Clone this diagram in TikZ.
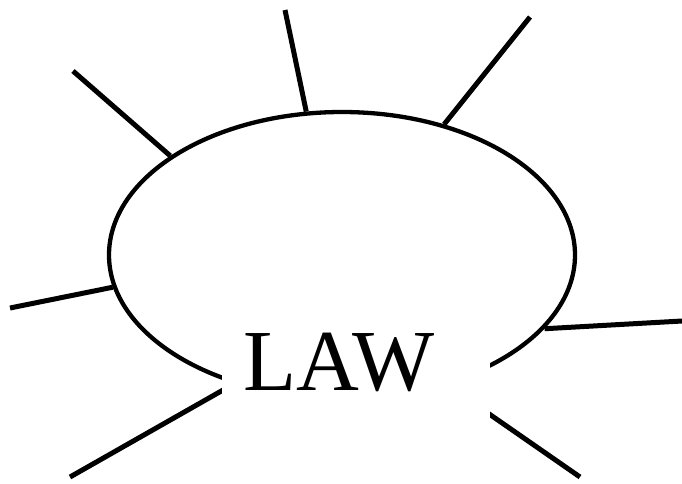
\documentclass[tikz,border=0pt]{standalone}
\usepackage{fontspec}
\setmainfont{Liberation Serif}
\usetikzlibrary{shapes.geometric}

\tikzset{
  bubble/.style={draw,ellipse,line width=4.3pt,inner sep=0pt,minimum width=466pt,minimum height=286pt},
  ray/.style={line width=5pt},
  tag/.style={fill=white,inner xsep=21pt,inner ysep=0pt,text width=226pt,align=left,
    text height=70pt,text depth=50pt,font=\fontsize{87}{90}\selectfont}
}

\begin{document}
\begin{tikzpicture}[x=1pt,y=-1pt]
  \useasboundingbox (0,0) rectangle (682,483);
  \node[bubble] (idea) at (342,255) {};
  % rays: border angle / free end
  \foreach \a/\x/\y [count=\i] in {188/10/308, 150.8/73/71, 104.1/285/10, 52.6/530/17,
      -20/682/321, -51.4/580/477, 230.6/70/477}
  {
    \coordinate (ray\i) at (\x,\y);
    \draw[ray] (idea.\a) -- (ray\i);
  }
  \node[tag,anchor=base west] (law) at (222,390) {LAW};
\end{tikzpicture}
\end{document}
